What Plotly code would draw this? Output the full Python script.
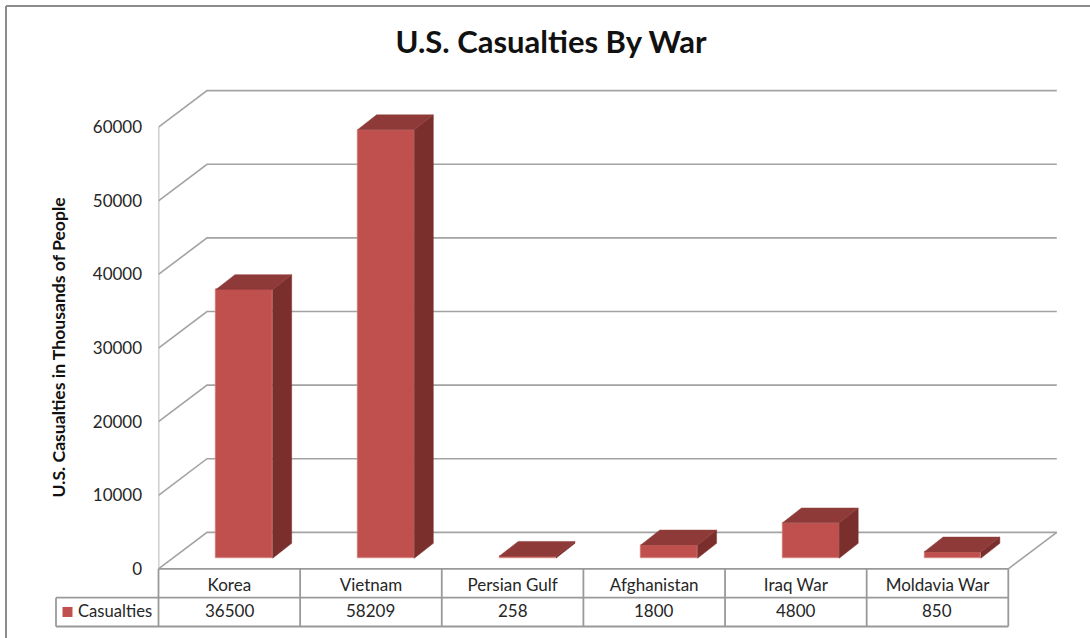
import plotly.graph_objects as go

categories = ["Korea", "Vietnam", "Persian Gulf", "Afghanistan", "Iraq War", "Moldavia War"]
casualties = [36500, 58209, 258, 1800, 4800, 850]
y_ticks = [0, 10000, 20000, 30000, 40000, 50000, 60000]
series_name = "Casualties"
title_text = "U.S. Casualties By War"
y_title = "U.S. Casualties in Thousands of People"

W, H = 1090, 649
DRAWN_H = 638
FONT = "Lato"
TXT = "#262626"
GRID = "#a3a3a3"
RED, SIDE, TOP = "#C0504D", "#7A2F2D", "#8E3A38"

# plot geometry in pixels
L, R, B, T = 158.5, 1060.0, 568.0, 88.0
CAT_W = (1008.3 - 158.5) / 6
PX_PER_UNIT = 441.0 / 60000

ux = lambda px: px / CAT_W            # px to category units
uy = lambda px: px / PX_PER_UNIT      # px to value units
fx = lambda px: px / W                # paper coordinates
fy = lambda py: 1 - py / DRAWN_H

WALL_DX, WALL_DY = ux(48.5), uy(36.5)
BAR_DX, BAR_DY = ux(15), uy(10.7)
DEPTH_DX, DEPTH_DY = ux(19), uy(14.8)
BAR_W = ux(56.7)
idx = list(range(len(categories)))

fig = go.Figure()
fig.add_trace(go.Bar(
    x=[i + BAR_DX for i in idx], y=casualties, base=[BAR_DY] * len(idx), width=BAR_W,
    marker=dict(color=RED, line=dict(color="#D98F8D", width=0.6)),
    name=series_name, showlegend=False,
))
for i, v in zip(idx, casualties):
    x0 = i + BAR_DX - BAR_W / 2
    x1 = i + BAR_DX + BAR_W / 2
    b, t = BAR_DY, BAR_DY + v
    fig.add_trace(go.Scatter(
        x=[x1, x1 + DEPTH_DX, x1 + DEPTH_DX, x1, x1],
        y=[b, b + DEPTH_DY, t + DEPTH_DY, t, b],
        mode="lines", fill="toself", fillcolor=SIDE, line=dict(color=SIDE, width=0.5),
        hoverinfo="skip", showlegend=False))
    fig.add_trace(go.Scatter(
        x=[x0, x1, x1 + DEPTH_DX, x0 + DEPTH_DX, x0],
        y=[t, t, t + DEPTH_DY, t + DEPTH_DY, t],
        mode="lines", fill="toself", fillcolor=TOP, line=dict(color=TOP, width=0.5),
        hoverinfo="skip", showlegend=False))

shapes = []
x_front = -0.5
x_right_front = len(idx) - 0.5
x_back_end = x_right_front + WALL_DX
line = dict(color=GRID, width=1.6)
for v in y_ticks:
    shapes.append(dict(type="path", layer="below", xref="x", yref="y", line=line,
                       path=f"M {x_front} {v} L {x_front + WALL_DX} {v + WALL_DY} L {x_back_end} {v + WALL_DY}"))
# right floor edge
shapes.append(dict(type="line", layer="below", xref="x", yref="y", line=line,
                   x0=x_right_front, y0=0, x1=x_back_end, y1=WALL_DY))
# value axis
shapes.append(dict(type="line", layer="below", xref="x", yref="y", line=line,
                   x0=x_front, y0=0, x1=x_front, y1=y_ticks[-1]))

# data table furniture
tline = dict(color="#999999", width=1.8)
ROW0, ROW1, ROW2 = 568.0, 596.7, 625.5
KEY_L = 56.0
TR = 1008.3
def seg(x0, y0, x1, y1):
    shapes.append(dict(type="line", xref="paper", yref="paper", line=tline,
                       x0=fx(x0), y0=fy(y0), x1=fx(x1), y1=fy(y1)))
seg(L, ROW0, TR, ROW0)
seg(KEY_L, ROW1, TR, ROW1)
seg(KEY_L, ROW2, TR, ROW2)
seg(KEY_L, ROW1, KEY_L, ROW2)
for k in range(len(idx) + 1):
    seg(L + k * CAT_W, ROW0, L + k * CAT_W, ROW2)
# legend key
shapes.append(dict(type="rect", xref="paper", yref="paper", fillcolor=RED, line=dict(width=0),
                   x0=fx(62.5), x1=fx(72.5), y0=fy(616), y1=fy(606)))
# outer frame (top and left only are visible in the crop)
frame = dict(color="#8c8c8c", width=2)
shapes.append(dict(type="line", xref="paper", yref="paper", line=frame, x0=fx(6), y0=fy(6), x1=1, y1=fy(6)))
shapes.append(dict(type="line", xref="paper", yref="paper", line=frame, x0=fx(6), y0=fy(6), x1=fx(6), y1=0))

ann = [
    dict(text=f"<b>{y_title}</b>", textangle=-90, x=fx(59), y=fy(347), xref="paper", yref="paper",
         xanchor="center", yanchor="middle",
         showarrow=False, font=dict(size=17.6, family=FONT, color="#111111")),
    dict(text=series_name, x=fx(76), y=fy(610), xref="paper", yref="paper", xanchor="left", yanchor="middle",
         showarrow=False, font=dict(size=16.6, family=FONT, color=TXT)),
]
for i, v in zip(idx, casualties):
    ann.append(dict(text=str(v), x=i, y=fy(610), xref="x", yref="paper", showarrow=False,
                    xanchor="center", yanchor="middle",
                    font=dict(size=17, family=FONT, color=TXT)))

fig.update_layout(
    width=W, height=H, autosize=False,
    margin=dict(l=0, r=0, t=0, b=0),
    paper_bgcolor="white", plot_bgcolor="white",
    showlegend=False, bargap=0,
    title=dict(text=f"<b>{title_text}</b>", x=551 / W, xanchor="center", y=1 - 42 / H, yanchor="middle",
               font=dict(size=31, family=FONT, color="#111111")),
    xaxis=dict(domain=[fx(L), fx(R)], range=[-0.5, -0.5 + ux(R - L)],
               tickmode="array", tickvals=idx, ticktext=categories,
               ticks="outside", ticklen=1, tickcolor="rgba(0,0,0,0)",
               showgrid=False, zeroline=False, showline=False,
               tickfont=dict(size=17, family=FONT, color=TXT)),
    yaxis=dict(domain=[fy(B), fy(T)], range=[0, uy(B - T)],
               tickmode="array", tickvals=y_ticks, ticktext=[str(v) for v in y_ticks],
               ticks="outside", ticklen=12, tickcolor="rgba(0,0,0,0)",
               showgrid=False, zeroline=False, showline=False,
               tickfont=dict(size=17, family=FONT, color=TXT)),
    shapes=shapes, annotations=ann,
)
fig.write_html("out.html", config=dict(displayModeBar=False, responsive=False),
               default_width="1090px", default_height=f"{H}px",
               post_script="document.body.style.margin='0';")
